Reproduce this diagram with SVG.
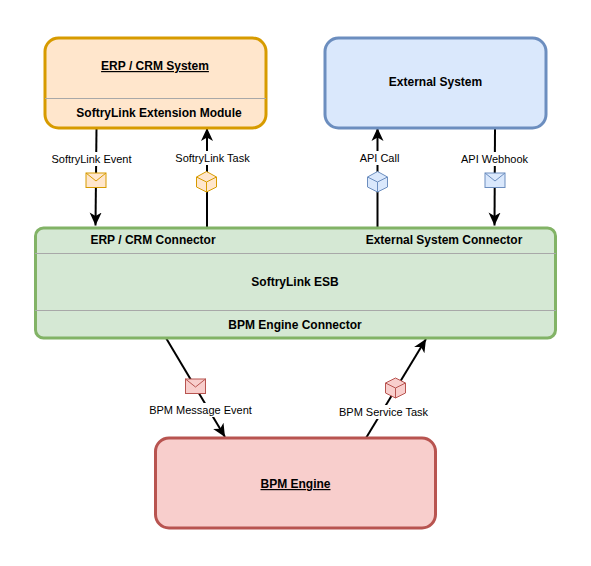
<svg xmlns="http://www.w3.org/2000/svg" width="591" height="566" viewBox="0 0 591 566">
<style>
text{font-family:"Liberation Sans",Arial,Helvetica,sans-serif;fill:#000;text-anchor:middle}
.b{font-size:12px;font-weight:bold}
.u{text-decoration:underline}
.l{font-size:11px}
.bg{fill:#fff;stroke:none}
.box{stroke-width:3}
.sep{stroke:#a8a8a8;stroke-width:1;fill:none}
.c{stroke:#000;stroke-width:2;fill:none}
.or{fill:#ffe6cc;stroke:#d79b00}
.bl{fill:#dae8fc;stroke:#6c8ebf}
.gr{fill:#d5e8d4;stroke:#82b366}
.rd{fill:#f8cecc;stroke:#b85450}
.ic{stroke-width:1}
.ic2{fill:none;stroke-width:1}
</style>
<defs>
<marker id="a" markerUnits="userSpaceOnUse" markerWidth="15" markerHeight="14" refX="13" refY="6.500" orient="auto"><path d="M0 0.500L13 6.500L0 12.500L3.500 6.500Z" fill="#000"/></marker>
</defs>
<rect width="591" height="566" fill="#fff"/>
<g id="connectors">
<path class="c" d="M96.500 128L95.500 225.500" marker-end="url(#a)"/>
<path class="c" d="M207 227V128" marker-end="url(#a)"/>
<path class="c" d="M377.500 227V128" marker-end="url(#a)"/>
<path class="c" d="M495 128L494.500 225.500" marker-end="url(#a)"/>
<path class="c" d="M166 338L225 437" marker-end="url(#a)"/>
<path class="c" d="M366 438L426 339" marker-end="url(#a)"/>
</g>
<g id="erp">
<rect class="box or" x="45" y="38" width="221" height="90" rx="13.500"/>
<path class="sep" d="M45 98.500H266"/>
<text class="b u" x="155" y="70">ERP / CRM System</text>
<text class="b" x="159" y="117">SoftryLink Extension Module</text>
</g>
<g id="external">
<rect class="box bl" x="325" y="38" width="221" height="90" rx="13.500"/>
<text class="b" x="435.500" y="86">External System</text>
</g>
<g id="esb">
<rect class="box gr" x="35.500" y="228" width="520" height="110" rx="8"/>
<path class="sep" d="M35 253.500H556M35 310.500H556"/>
<text class="b" x="153" y="244">ERP / CRM Connector</text>
<text class="b" x="444" y="244">External System Connector</text>
<text class="b" x="295" y="286">SoftryLink ESB</text>
<text class="b" x="295" y="329">BPM Engine Connector</text>
</g>
<g id="bpm">
<rect class="box rd" x="155.500" y="438" width="280" height="90" rx="13.500"/>
<text class="b u" x="295.500" y="488">BPM Engine</text>
</g>
<g id="label-softrylink-event">
<rect class="bg" x="51" y="152" width="81" height="14"/>
<text class="l" x="91.500" y="163">SoftryLink Event</text>
<rect class="or ic" x="86" y="173" width="20" height="14.500"/>
<path class="ic2" stroke="#d79b00" d="M86 173L96 181L106 173"/>
</g>
<g id="label-softrylink-task">
<rect class="bg" x="175" y="151" width="76" height="14"/>
<text class="l" x="212.500" y="162">SoftryLink Task</text>
<path class="or ic" d="M206.500 171.500L216.500 177V187L206.500 192L196.500 187V177Z"/>
<path class="ic2" stroke="#d79b00" d="M196.500 177L206.500 182L216.500 177M206.500 182V192"/>
</g>
<g id="label-api-call">
<rect class="bg" x="359" y="151" width="42" height="14"/>
<text class="l" x="379.500" y="162">API Call</text>
<path class="bl ic" d="M377.500 171.500L387.500 177V187L377.500 192L367.500 187V177Z"/>
<path class="ic2" stroke="#6c8ebf" d="M367.500 177L377.500 182L387.500 177M377.500 182V192"/>
</g>
<g id="label-api-webhook">
<rect class="bg" x="461" y="152" width="67" height="14"/>
<text class="l" x="494.500" y="163">API Webhook</text>
<rect class="bl ic" x="485" y="173" width="20" height="14.500"/>
<path class="ic2" stroke="#6c8ebf" d="M485 173L495 181L505 173"/>
</g>
<g id="label-bpm-message-event">
<rect class="bg" x="149" y="403" width="103" height="14"/>
<text class="l" x="200.500" y="414">BPM Message Event</text>
<rect class="rd ic" x="185.500" y="379" width="20" height="14.500"/>
<path class="ic2" stroke="#b85450" d="M185.500 379L195.500 387L205.500 379"/>
</g>
<g id="label-bpm-service-task">
<rect class="bg" x="339" y="405" width="89" height="14"/>
<text class="l" x="383.500" y="416">BPM Service Task</text>
<path class="rd ic" d="M395.500 378L405.500 383V393L395.500 398L385.500 393V383Z"/>
<path class="ic2" stroke="#b85450" d="M385.500 383L395.500 388L405.500 383M395.500 388V398"/>
</g>
</svg>
